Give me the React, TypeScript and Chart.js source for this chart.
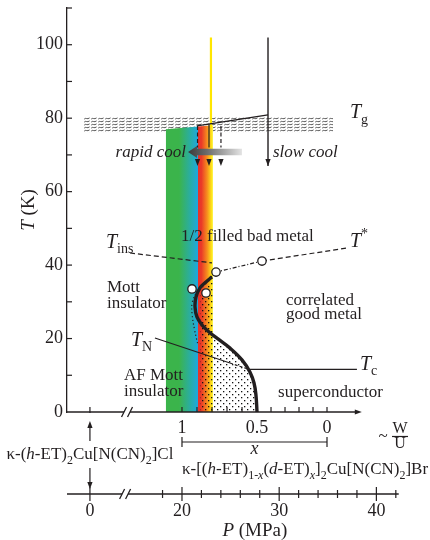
import React, { useEffect, useRef } from 'react';
import { Chart, registerables } from 'chart.js';

Chart.register(...registerables);

// ---------------- data ----------------
const SERIF = '"Liberation Serif", "Times New Roman", serif';
const INK = '#231f20';

// temperature axis (K)
const T_MAX = 110;
const T_STEP = 10;

// pressure axis (MPa); left of the break the axis is compressed
const P_MIN = 8.17;
const P_MAX = 42.43;
const P_BREAK = 14.5;
const P_ZERO_POS = 10.53; // where P = 0 MPa (κ-Cl) sits on the broken axis
const P_MAJOR = [20, 30, 40];
const P_MINOR = [18, 22, 24, 26, 28, 32, 34, 36, 38, 42];
const P_AXIS_END = 42.3;

// deuteration x (W/U axis) -> pressure
const X_FRACTION = [1, 0.5, 0];
const X_FRACTION_P = [20, 27.72, 34.92];
const X_TICKS = [1, 0.9, 0.8, 0.7, 0.6, 0.5, 0.4, 0.3, 0.2, 0.1, 0];
const X_LABELS = ['1', '0.5', '0'];
const W_AXIS_END_P = 38.5;

// Mott first-order line (S-shaped)
const MOTT_P = [23.09, 22.47, 21.85, 21.44, 21.34, 21.54, 22.06, 22.78, 23.7, 24.94, 26.17, 26.99, 27.41, 27.61, 27.72];
const MOTT_T = [36.8, 35.4, 33.8, 31.3, 28.6, 25.9, 23.7, 21.8, 19.9, 17.4, 14.2, 10.9, 7.9, 4.6, 0];

// dotted spinodal
const SPIN_P = [22.37, 21.54, 21.05, 21.05, 21.3, 21.65];
const SPIN_T = [35.4, 32.7, 29.7, 26.4, 22.3, 18.2];

// stippled (superconducting / coexistence) region outline
const SC_P = [21.85, 22.57, 23.19, 23.19, 23.7, 24.94, 26.17, 26.99, 27.41, 27.61, 27.72, 21.85];
const SC_T = [33.8, 35.7, 35.7, 21.0, 19.9, 17.4, 14.2, 10.9, 7.9, 4.6, 0, 0];

// crossover lines
const TINS_P = [14.65, 23.09];
const TINS_T = [43.3, 40.6];
const TSTAR_NEAR_P = [22.78, 23.5, 28.23];
const TSTAR_NEAR_T = [36.2, 38.1, 41.1];
const TSTAR_FAR_P = [28.23, 36.98];
const TSTAR_FAR_T = [41.1, 44.65];
const TN_P = [17.22, 24.94];
const TN_T = [20.15, 13.34];
const TN_HIDDEN_P = [24.94, 27.0];
const TN_HIDDEN_T = [13.34, 11.5];
const TC_P = [27.0, 38.0];
const TC_T = [11.6, 11.6];

// open circles (measured points)
const CIRCLE_P = [21.03, 22.47, 23.5, 28.23];
const CIRCLE_T = [33.5, 32.4, 38.1, 41.1];

// glass transition band Tg
const GLASS_P = [9.9, 35.53];
const GLASS_T = [76.2, 80.3];

// colour band of samples
const BAND_P = [18.35, 23.19];
const BAND_TOP_T = [77.0, 78.1];
const BAND_STOP_P = [18.35, 19.7, 21.6, 21.65, 22.0, 22.6, 23.05, 23.19];
const BAND_STOP_C = ['#3bb44b', '#3bb44b', '#1fa8dc', '#e8312a', '#ea3a28', '#f7901e', '#fde619', '#fff45a'];

// cooling lines
const YELLOW_P = 22.98;
const YELLOW_T = [102, 77.5];
const SLOW_P = 28.85;
const SLOW_T = [102, 67.0];
const SLANT_P = [28.85, 21.54];
const SLANT_T = [80.9, 77.9];
const COOL_ARROW_P = [21.6, 22.78, 24.01];
const COOL_ARROW_T0 = [77.9, 78.4, 77.9];
const COOL_ARROW_DASHED = [true, false, true];
const COOL_ARROW_T1 = 67.0;
const RAPID_ARROW_P = [20.62, 26.17];
const RAPID_ARROW_T = 70.8;

// text annotations (data coordinates)
const REGION_TEXT = ['1/2 filled bad metal', 'Mott', 'insulator', 'AF Mott', 'insulator', 'correlated', 'good metal', 'superconductor'];
const REGION_P = [19.9, 12.28, 12.28, 14.03, 14.03, 30.7, 30.7, 29.88];
const REGION_T = [46.6, 32.7, 28.3, 8.7, 4.4, 29.1, 25.3, 4.1];

type Seg = { t: string; i?: boolean; sub?: boolean; sup?: boolean };
const SYM_LABELS: { segs: Seg[]; p: number; t: number }[] = [
  { segs: [{ t: 'T', i: true }, { t: 'g', sub: true }], p: 37.28, t: 80.0 },
  { segs: [{ t: 'T', i: true }, { t: '*', sup: true }], p: 37.28, t: 44.9 },
  { segs: [{ t: 'T', i: true }, { t: 'ins', sub: true }], p: 12.18, t: 44.65 },
  { segs: [{ t: 'T', i: true }, { t: 'N', sub: true }], p: 14.75, t: 17.97 },
  { segs: [{ t: 'T', i: true }, { t: 'c', sub: true }], p: 38.31, t: 11.43 },
];
const COOL_TEXT = ['rapid cool', 'slow cool'];
const COOL_TEXT_P = [20.41, 29.36];
const COOL_TEXT_T = 69.4;

const CL_LABEL: Seg[] = [
  { t: 'κ-(' }, { t: 'h', i: true }, { t: '-ET)' }, { t: '2', sub: true }, { t: 'Cu[N(CN)' }, { t: '2', sub: true }, { t: ']Cl' },
];
const BR_LABEL: Seg[] = [
  { t: 'κ-[(' }, { t: 'h', i: true }, { t: '-ET)' }, { t: '1-', sub: true }, { t: 'x', sub: true, i: true },
  { t: '(' }, { t: 'd', i: true }, { t: '-ET)' }, { t: 'x', sub: true, i: true }, { t: ']' }, { t: '2', sub: true },
  { t: 'Cu[N(CN)' }, { t: '2', sub: true }, { t: ']Br' },
];

// ---------------- helpers ----------------
const pts = (ps: number[], ts: number[]) => ps.map((p, i) => ({ x: p, y: ts[i] }));

function xToP(x: number) {
  for (let i = 0; i < X_FRACTION.length - 1; i++) {
    const a = X_FRACTION[i], b = X_FRACTION[i + 1];
    if (x <= a && x >= b) {
      return X_FRACTION_P[i] + ((a - x) / (a - b)) * (X_FRACTION_P[i + 1] - X_FRACTION_P[i]);
    }
  }
  return X_FRACTION_P[X_FRACTION_P.length - 1];
}

function segFont(s: Seg, size: number) {
  const sz = s.sub || s.sup ? Math.round(size * 0.7) : size;
  return `${s.i ? 'italic ' : ''}${sz}px ${SERIF}`;
}
function richWidth(ctx: CanvasRenderingContext2D, segs: Seg[], size: number) {
  let w = 0;
  for (const s of segs) {
    ctx.font = segFont(s, size);
    w += ctx.measureText(s.t).width;
  }
  return w;
}
function drawRich(ctx: CanvasRenderingContext2D, segs: Seg[], x: number, y: number, size: number, align = 'left') {
  const w = richWidth(ctx, segs, size);
  let cx = align === 'center' ? x - w / 2 : align === 'right' ? x - w : x;
  ctx.textAlign = 'left';
  ctx.textBaseline = 'alphabetic';
  for (const s of segs) {
    ctx.font = segFont(s, size);
    const dy = s.sub ? size * 0.27 : s.sup ? -size * 0.45 : 0;
    ctx.fillText(s.t, cx, y + dy);
    cx += ctx.measureText(s.t).width;
  }
}

function wavePattern(ctx: CanvasRenderingContext2D) {
  const c = document.createElement('canvas');
  c.width = 7;
  c.height = 3;
  const g = c.getContext('2d')!;
  g.strokeStyle = '#3a3a3a';
  g.lineWidth = 0.85;
  g.beginPath();
  g.moveTo(0.2, 2.1);
  g.bezierCurveTo(1.6, 0.2, 3.3, 2.9, 5.6, 0.9);
  g.stroke();
  return ctx.createPattern(c, 'repeat')!;
}
function dotPattern(ctx: CanvasRenderingContext2D) {
  const c = document.createElement('canvas');
  c.width = 6;
  c.height = 6;
  const g = c.getContext('2d')!;
  g.fillStyle = '#111';
  g.fillRect(1, 1, 1.3, 1.3);
  g.fillRect(4, 4, 1.3, 1.3);
  return ctx.createPattern(c, 'repeat')!;
}

function line(ctx: CanvasRenderingContext2D, x1: number, y1: number, x2: number, y2: number) {
  ctx.beginPath();
  ctx.moveTo(x1, y1);
  ctx.lineTo(x2, y2);
  ctx.stroke();
}
function headDown(ctx: CanvasRenderingContext2D, x: number, y: number) {
  ctx.beginPath();
  ctx.moveTo(x, y);
  ctx.lineTo(x - 2.6, y - 7);
  ctx.lineTo(x + 2.6, y - 7);
  ctx.closePath();
  ctx.fill();
}
function headUp(ctx: CanvasRenderingContext2D, x: number, y: number) {
  ctx.beginPath();
  ctx.moveTo(x, y);
  ctx.lineTo(x - 2.6, y + 7);
  ctx.lineTo(x + 2.6, y + 7);
  ctx.closePath();
  ctx.fill();
}
function breakMark(ctx: CanvasRenderingContext2D, bx: number, y: number) {
  ctx.beginPath();
  ctx.moveTo(bx - 7, y + 5);
  ctx.lineTo(bx - 2, y - 5);
  ctx.moveTo(bx - 1, y + 5);
  ctx.lineTo(bx + 4, y - 5);
  ctx.stroke();
}

const decor = {
  id: 'decor',
  beforeDatasetsDraw(chart: any) {
    const { ctx } = chart;
    const xs = chart.scales.x, ys = chart.scales.y;
    const X = (p: number) => xs.getPixelForValue(p);
    const Y = (t: number) => ys.getPixelForValue(t);
    ctx.save();
    // Tg band
    ctx.fillStyle = wavePattern(ctx);
    ctx.fillRect(X(GLASS_P[0]), Y(GLASS_T[1]), X(GLASS_P[1]) - X(GLASS_P[0]), Y(GLASS_T[0]) - Y(GLASS_T[1]));
    // colour band
    const g = ctx.createLinearGradient(X(BAND_P[0]), 0, X(BAND_P[1]), 0);
    BAND_STOP_P.forEach((p, i) => g.addColorStop((p - BAND_P[0]) / (BAND_P[1] - BAND_P[0]), BAND_STOP_C[i]));
    ctx.fillStyle = g;
    ctx.beginPath();
    ctx.moveTo(X(BAND_P[0]), Y(0));
    ctx.lineTo(X(BAND_P[0]), Y(BAND_TOP_T[0]));
    ctx.lineTo(X(BAND_P[1]), Y(BAND_TOP_T[1]));
    ctx.lineTo(X(BAND_P[1]), Y(0));
    ctx.closePath();
    ctx.fill();
    // stipple
    ctx.fillStyle = dotPattern(ctx);
    ctx.beginPath();
    SC_P.forEach((p, i) => (i ? ctx.lineTo(X(p), Y(SC_T[i])) : ctx.moveTo(X(p), Y(SC_T[i]))));
    ctx.closePath();
    ctx.fill();
    // rapid-cool grey arrow
    const tipX = X(RAPID_ARROW_P[0]), tailX = X(RAPID_ARROW_P[1]), ay = Y(RAPID_ARROW_T);
    const ag = ctx.createLinearGradient(tipX, 0, tailX, 0);
    ag.addColorStop(0, '#3a3a3a');
    ag.addColorStop(0.35, '#6b6b6b');
    ag.addColorStop(1, '#e4e4e4');
    ctx.fillStyle = ag;
    ctx.beginPath();
    ctx.moveTo(tipX, ay);
    ctx.lineTo(tipX + 9, ay - 6);
    ctx.lineTo(tipX + 9, ay - 3.3);
    ctx.lineTo(tailX, ay - 3.3);
    ctx.lineTo(tailX, ay + 3.3);
    ctx.lineTo(tipX + 9, ay + 3.3);
    ctx.lineTo(tipX + 9, ay + 6);
    ctx.closePath();
    ctx.fill();
    ctx.restore();
  },
  afterDatasetsDraw(chart: any) {
    const { ctx, chartArea } = chart;
    const xs = chart.scales.x, ys = chart.scales.y;
    const X = (p: number) => xs.getPixelForValue(p);
    const Y = (t: number) => ys.getPixelForValue(t);
    ctx.save();
    ctx.strokeStyle = INK;
    ctx.fillStyle = INK;
    ctx.lineWidth = 1.2;

    // arrowheads of cooling arrows
    COOL_ARROW_P.forEach((p) => headDown(ctx, X(p), Y(COOL_ARROW_T1)));
    headDown(ctx, X(SLOW_P), Y(SLOW_T[1]));

    // inward ticks of T axis
    const left = chartArea.left;
    for (let t = T_STEP; t <= T_MAX; t += T_STEP) line(ctx, left, Y(t), left + 5, Y(t));

    // main horizontal axis (T = 0)
    const y0 = Y(0);
    const bx = X(P_BREAK);
    const xEnd = X(W_AXIS_END_P);
    ctx.lineWidth = 1.3;
    line(ctx, left, y0, bx - 4.5, y0);
    line(ctx, bx + 1.5, y0, xEnd - 5, y0);
    breakMark(ctx, bx, y0);
    ctx.beginPath();
    ctx.moveTo(xEnd, y0);
    ctx.lineTo(xEnd - 7, y0 - 2.6);
    ctx.lineTo(xEnd - 7, y0 + 2.6);
    ctx.closePath();
    ctx.fill();
    ctx.lineWidth = 1.2;
    X_TICKS.forEach((x) => line(ctx, X(xToP(x)), y0, X(xToP(x)), y0 - 5));
    const x0p = X(P_ZERO_POS);
    line(ctx, x0p, y0 - 5, x0p, y0 + 1);
    ctx.font = `18px ${SERIF}`;
    ctx.textAlign = 'center';
    ctx.textBaseline = 'alphabetic';
    X_FRACTION.forEach((x, i) => ctx.fillText(X_LABELS[i], X(xToP(x)), y0 + 21));
    // ~ W/U
    ctx.font = `17px ${SERIF}`;
    ctx.fillText('~', X(P_MAX) - 17, y0 + 29);
    ctx.font = `16px ${SERIF}`;
    const wuX = X(P_MAX);
    ctx.fillText('W', wuX, y0 + 21);
    ctx.fillText('U', wuX, y0 + 36);
    line(ctx, wuX - 8, y0 + 24.5, wuX + 8, y0 + 24.5);

    // x bracket
    const bx1 = X(xToP(1)), bx0 = X(xToP(0));
    const by = y0 + 30;
    line(ctx, bx1, by, bx0, by);
    line(ctx, bx1, by - 5, bx1, by + 5);
    line(ctx, bx0, by - 5, bx0, by + 5);
    drawRich(ctx, [{ t: 'x', i: true }], (bx1 + bx0) / 2, y0 + 42, 18, 'center');

    // sample labels
    drawRich(ctx, CL_LABEL, x0p, y0 + 47, 17, 'center');
    drawRich(ctx, BR_LABEL, bx1, y0 + 62, 17, 'left');
    // κ-Cl arrows
    line(ctx, x0p, y0 + 29, x0p, y0 + 12);
    headUp(ctx, x0p, y0 + 9);
    line(ctx, x0p, y0 + 56, x0p, y0 + 72);
    headDown(ctx, x0p, y0 + 77);

    // pressure axis
    const py = y0 + 82;
    const pbx = X(P_BREAK - 0.2);
    ctx.lineWidth = 1.3;
    line(ctx, left, py, pbx - 4.5, py);
    line(ctx, pbx + 1.5, py, X(P_AXIS_END), py);
    breakMark(ctx, pbx, py);
    ctx.lineWidth = 1.2;
    line(ctx, x0p, py - 7, x0p, py + 7);
    P_MAJOR.forEach((p) => line(ctx, X(p), py - 7, X(p), py + 7));
    P_MINOR.forEach((p) => line(ctx, X(p), py - 4, X(p), py + 4));
    ctx.font = `18px ${SERIF}`;
    ctx.textAlign = 'center';
    ctx.fillText('0', x0p, y0 + 104);
    P_MAJOR.forEach((p) => ctx.fillText(String(p), X(p), y0 + 104));
    drawRich(ctx, [{ t: 'P', i: true }, { t: ' (MPa)' }], X(27.5), y0 + 124, 19, 'center');

    // T axis title
    ctx.save();
    ctx.translate(34, (chartArea.top + chartArea.bottom) / 2);
    ctx.rotate(-Math.PI / 2);
    drawRich(ctx, [{ t: 'T', i: true }, { t: ' (K)' }], 0, 0, 19, 'center');
    ctx.restore();

    // region labels
    ctx.font = `17px ${SERIF}`;
    ctx.textAlign = 'left';
    REGION_TEXT.forEach((s, i) => ctx.fillText(s, X(REGION_P[i]), Y(REGION_T[i])));
    // cooling labels
    drawRich(ctx, [{ t: COOL_TEXT[0], i: true }], X(COOL_TEXT_P[0]), Y(COOL_TEXT_T), 17, 'right');
    drawRich(ctx, [{ t: COOL_TEXT[1], i: true }], X(COOL_TEXT_P[1]), Y(COOL_TEXT_T), 17, 'left');
    // symbol labels
    SYM_LABELS.forEach((l) => drawRich(ctx, l.segs, X(l.p), Y(l.t), 20, 'left'));
    ctx.restore();
  },
};

const lineDs = (data: any[], extra: any = {}) => ({
  data,
  borderColor: INK,
  borderWidth: 1.2,
  pointRadius: 0,
  fill: false,
  tension: 0,
  ...extra,
});

export default function App() {
  const ref = useRef<HTMLCanvasElement>(null);
  useEffect(() => {
    document.body.style.margin = '0';
    const canvas = ref.current!;
    const datasets: any[] = [
      {
        data: pts(CIRCLE_P, CIRCLE_T),
        showLine: false,
        pointRadius: 4.2,
        pointBackgroundColor: '#ffffff',
        pointBorderColor: INK,
        pointBorderWidth: 1.3,
      },
      lineDs(pts(MOTT_P, MOTT_T), { borderWidth: 3.4, tension: 0.4 }),
      lineDs(pts(SPIN_P, SPIN_T), { borderDash: [1.2, 2.6], tension: 0.4 }),
      lineDs(pts(TINS_P, TINS_T), { borderDash: [5, 3] }),
      lineDs(pts(TSTAR_NEAR_P, TSTAR_NEAR_T), { borderDash: [4, 2, 1, 2] }),
      lineDs(pts(TSTAR_FAR_P, TSTAR_FAR_T), { borderDash: [5, 3] }),
      lineDs(pts(TN_P, TN_T)),
      lineDs(pts(TN_HIDDEN_P, TN_HIDDEN_T), { borderDash: [3, 2] }),
      lineDs(pts(TC_P, TC_T)),
      lineDs(pts([SLOW_P, SLOW_P], SLOW_T), { borderWidth: 1.4 }),
      lineDs(pts(SLANT_P, SLANT_T), { borderWidth: 1.4 }),
      ...COOL_ARROW_P.map((p, i) =>
        lineDs(pts([p, p], [COOL_ARROW_T0[i], COOL_ARROW_T1 + 5]), COOL_ARROW_DASHED[i] ? { borderDash: [4, 2.5] } : {})
      ),
      lineDs(pts([YELLOW_P, YELLOW_P], YELLOW_T), { borderColor: '#ffe600', borderWidth: 2.2 }),
    ];
    const chart = new Chart(canvas, {
      type: 'line',
      data: { datasets },
      options: {
        animation: false,
        responsive: false,
        maintainAspectRatio: false,
        layout: { padding: { left: 0, top: 8, right: 30, bottom: 128 } },
        plugins: { legend: { display: false }, tooltip: { enabled: false } },
        scales: {
          x: { type: 'linear', min: P_MIN, max: P_MAX, display: false },
          y: {
            type: 'linear',
            min: 0,
            max: T_MAX,
            afterFit: (s: any) => {
              s.width = 67;
              s.paddingTop = 0;
              s.paddingBottom = 0;
            },
            ticks: {
              stepSize: T_STEP,
              autoSkip: false,
              padding: 4,
              color: INK,
              font: { family: SERIF, size: 18 },
              callback: (v: any) => (Number(v) % 20 === 0 ? String(v) : ''),
            },
            grid: { display: false, drawTicks: false },
            border: { display: true, color: INK, width: 1.3 },
          },
        },
      },
      plugins: [decor],
    } as any);
    return () => chart.destroy();
  }, []);
  return <canvas ref={ref} width={430} height={540} style={{ display: 'block', width: 430, height: 540 }} />;
}
